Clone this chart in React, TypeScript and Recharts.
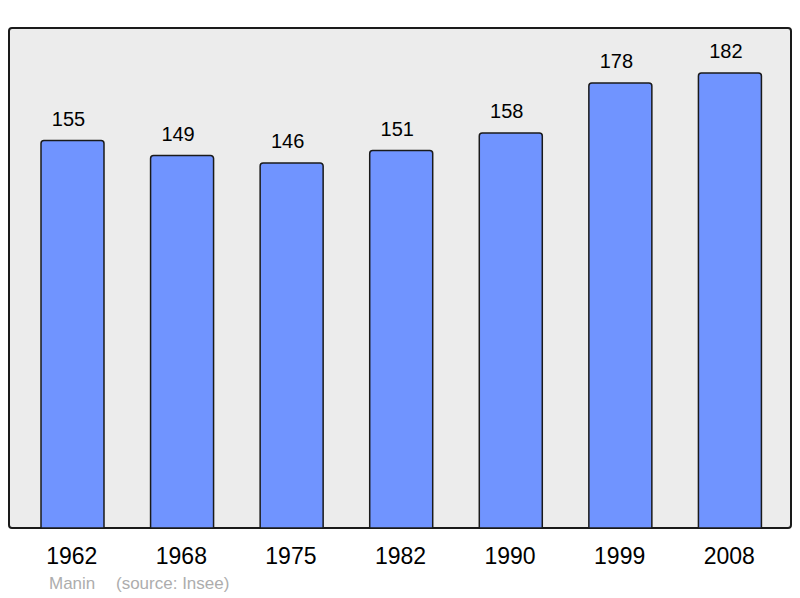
import React from "react"
import { Bar, BarChart, LabelList, XAxis, YAxis } from "recharts"

const years = ["1962", "1968", "1975", "1982", "1990", "1999", "2008"]
const population = [155, 149, 146, 151, 158, 178, 182]

const data = years.map((year, i) => ({ year, population: population[i] }))

const W = 800
const H = 598
const margin = { top: 28, right: 8, bottom: 40, left: 9 }
const axisHeight = 30

const footerStyle: React.CSSProperties = {
  position: "absolute",
  top: 574,
  fontSize: 17,
  color: "#adadad",
  whiteSpace: "pre",
}

export default function App() {
  return (
    <div
      style={{
        position: "absolute",
        left: 0,
        top: 0,
        width: W,
        height: H,
        fontFamily: "'Liberation Sans', Arial, sans-serif",
        background: "#fff",
      }}
    >
      {/* plot frame */}
      <div
        style={{
          position: "absolute",
          left: margin.left - 1,
          top: margin.top - 1,
          width: W - margin.left - margin.right + 1,
          height: H - margin.top - margin.bottom - axisHeight + 2,
          background: "#ececec",
          border: "2px solid #1a1a1a",
          borderRadius: 4,
          boxSizing: "border-box",
        }}
      />
      <BarChart
        width={W}
        height={H}
        data={data}
        margin={margin}
        style={{ position: "absolute", left: 0, top: 0 }}
      >
        <XAxis
          dataKey="year"
          height={axisHeight}
          axisLine={false}
          tickLine={false}
          tickSize={0}
          tickMargin={20}
          padding={{ left: 9, right: 7 }}
          tick={{ fontSize: 23, fill: "#000", dx: -1 }}
          interval={0}
        />
        <YAxis hide domain={[0, 200]} />
        <Bar
          dataKey="population"
          fill="#7094ff"
          stroke="#1a1a1a"
          strokeWidth={1.5}
          barSize={63}
          radius={[3, 3, 0, 0]}
          isAnimationActive={false}
        >
          <LabelList dataKey="population" position="top" offset={15} fontSize={20} fill="#000" dx={-4} />
        </Bar>
      </BarChart>
      <div style={{ ...footerStyle, left: 49 }}>Manin</div>
      <div style={{ ...footerStyle, left: 116 }}>(source: Insee)</div>
    </div>
  )
}
